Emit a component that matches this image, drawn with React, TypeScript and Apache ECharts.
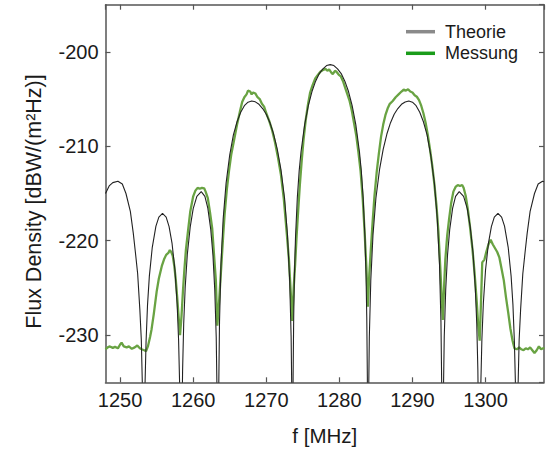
import React, { useEffect, useRef } from 'react';
import * as echarts from 'echarts';

// Frequency axis range [MHz] and flux density range [dBW/(m²Hz)]
const freqRange = [1248, 1308];
const fluxRange = [-235, -195];

// Theoretical spectrum: [frequency MHz, flux density dB]
const theoryData: [number, number][] = [
  [1248.0, -215.0], [1248.5, -214.2], [1249.0, -213.85], [1249.7, -213.7], [1250.3, -214.0], [1250.8, -215.0],
  [1251.4, -216.9], [1251.8, -219.2], [1252.1, -221.3], [1252.4, -223.5], [1252.7, -227.3], [1252.9, -230.5],
  [1253.05, -235.5], [1253.2, -250],
  [1253.3, -241.5], [1253.4, -235.5], [1253.55, -230.7], [1253.75, -226.8], [1254.0, -223.75], [1254.4, -220.7],
  [1254.9, -218.45], [1255.3, -217.5], [1255.8, -217.1], [1256.3, -217.5], [1256.7, -218.5], [1257.1, -220.25],
  [1257.5, -223.1], [1257.8, -226.65], [1258.0, -230.5], [1258.15, -235.4], [1258.25, -241.1], [1258.35, -250],
  [1258.45, -239.7], [1258.55, -233.7], [1258.7, -228.8], [1258.9, -225.0], [1259.2, -221.4], [1259.6, -218.5],
  [1260.0, -216.6], [1260.5, -215.3], [1261.1, -214.8], [1261.6, -215.3], [1262.0, -216.55], [1262.4, -218.8],
  [1262.7, -221.5], [1262.95, -225.2], [1263.15, -230.2], [1263.3, -238.2], [1263.4, -250],
  [1263.48, -236.5], [1263.6, -228.6], [1263.8, -222.5], [1264.1, -217.7], [1264.5, -213.9], [1265.0, -210.9],
  [1265.5, -208.8], [1266.0, -207.4], [1266.5, -206.4], [1267.0, -205.7], [1267.5, -205.33], [1268.0, -205.2],
  [1268.5, -205.29], [1269.0, -205.55], [1269.5, -206.0], [1270.0, -206.6], [1270.5, -207.5], [1271.0, -208.7],
  [1271.5, -210.3], [1272.0, -212.45], [1272.5, -215.5], [1272.9, -219.4], [1273.2, -224.2], [1273.4, -230.2],
  [1273.52, -238], [1273.6, -250],
  [1273.67, -234.5], [1273.75, -228.1], [1273.85, -223.7], [1274.0, -219.6], [1274.25, -215.4], [1274.5, -212.6],
  [1274.75, -210.6], [1275.25, -207.7], [1275.75, -205.7], [1276.25, -204.2], [1276.75, -203.1], [1277.25, -202.3],
  [1277.75, -201.8], [1278.25, -201.45], [1278.75, -201.35], [1279.25, -201.45], [1279.75, -201.8], [1280.25, -202.3],
  [1280.75, -203.1], [1281.25, -204.2], [1281.75, -205.7], [1282.25, -207.7], [1282.75, -210.6], [1283.0, -212.6],
  [1283.25, -215.4], [1283.5, -219.6], [1283.65, -223.7], [1283.75, -228.1], [1283.83, -234.5], [1283.9, -250],
  [1283.98, -238], [1284.1, -230.2], [1284.3, -224.2], [1284.6, -219.4], [1285.0, -215.5], [1285.5, -212.45],
  [1286.0, -210.3], [1286.5, -208.7], [1287.0, -207.5], [1287.5, -206.6], [1288.0, -206.0], [1288.5, -205.55],
  [1289.0, -205.3], [1289.5, -205.2], [1290.0, -205.33], [1290.5, -205.7], [1291.0, -206.4], [1291.5, -207.4],
  [1292.0, -208.8], [1292.5, -210.9], [1293.0, -213.9], [1293.4, -217.7], [1293.7, -222.5], [1293.9, -228.6],
  [1294.02, -236.5], [1294.1, -250],
  [1294.2, -238.2], [1294.35, -230.2], [1294.55, -225.2], [1294.8, -221.5], [1295.1, -218.8], [1295.5, -216.55],
  [1295.9, -215.3], [1296.4, -214.8], [1297.0, -215.3], [1297.5, -216.6], [1297.9, -218.5], [1298.3, -221.4],
  [1298.6, -225.0], [1298.8, -228.8], [1298.95, -233.7], [1299.05, -239.7], [1299.15, -250],
  [1299.25, -241.1], [1299.35, -235.4], [1299.5, -230.5], [1299.7, -226.65], [1300.0, -223.1], [1300.4, -220.25],
  [1300.8, -218.5], [1301.2, -217.5], [1301.7, -217.1], [1302.2, -217.5], [1302.6, -218.45], [1303.1, -220.7],
  [1303.5, -223.75], [1303.75, -226.8], [1303.95, -230.7], [1304.1, -235.5], [1304.2, -241.5], [1304.3, -250],
  [1304.45, -235.5], [1304.6, -230.5], [1304.8, -227.3], [1305.1, -223.5], [1305.4, -221.3], [1305.7, -219.2],
  [1306.1, -216.9], [1306.7, -215.0], [1307.2, -214.0], [1307.8, -213.7], [1308.0, -213.75],
];

// Measured spectrum: [frequency MHz, flux density dB]
const messungData: [number, number][] = [
  [1248.0, -231.5], [1248.3, -231.3], [1248.6, -231.2], [1249.0, -231.35], [1249.3, -231.25], [1249.7, -231.4],
  [1250.0, -231.0], [1250.2, -230.8], [1250.5, -231.2], [1250.9, -231.3], [1251.2, -231.2], [1251.6, -231.45],
  [1252.0, -231.3], [1252.35, -231.1], [1252.7, -231.4], [1252.95, -231.5], [1253.3, -231.6], [1253.55, -231.7],
  [1253.8, -231.2], [1254.1, -230.2], [1254.3, -229.4], [1254.6, -227.8], [1255.0, -225.4], [1255.3, -224.0],
  [1255.7, -222.7], [1256.0, -222.0], [1256.3, -221.5], [1256.6, -221.3], [1256.8, -221.0], [1257.0, -221.2],
  [1257.2, -221.6], [1257.4, -222.6], [1257.6, -224.0], [1257.8, -225.9], [1258.0, -228.0], [1258.2, -230.0],
  [1258.4, -228.0], [1258.6, -225.3], [1258.8, -223.0], [1259.0, -221.0], [1259.3, -218.9], [1259.6, -216.9],
  [1260.0, -215.3], [1260.3, -214.7], [1260.6, -214.4], [1260.9, -214.5], [1261.2, -214.4], [1261.5, -214.45],
  [1261.7, -214.8], [1262.0, -215.5], [1262.3, -217.0], [1262.6, -218.7], [1262.85, -221.5], [1263.1, -224.2],
  [1263.3, -229.0],
  [1263.5, -227.0], [1263.7, -224.5], [1263.9, -222.0], [1264.1, -219.5], [1264.3, -217.2], [1264.6, -214.6],
  [1264.9, -212.6], [1265.2, -210.9], [1265.6, -209.3], [1266.0, -207.7], [1266.4, -206.3], [1266.7, -205.3],
  [1267.0, -204.8], [1267.3, -204.5], [1267.5, -204.1], [1267.8, -204.2], [1268.0, -204.5], [1268.2, -204.3],
  [1268.5, -204.4], [1268.8, -204.8], [1269.1, -205.0], [1269.4, -205.5], [1269.7, -205.8], [1270.0, -206.5],
  [1270.4, -207.3], [1270.8, -208.3], [1271.2, -209.6], [1271.6, -211.2], [1272.0, -213.0], [1272.4, -215.6],
  [1272.8, -219.2], [1273.1, -222.0], [1273.35, -225.5], [1273.55, -228.5],
  [1273.75, -225.0], [1273.95, -222.5], [1274.15, -219.5], [1274.35, -217.0], [1274.6, -214.0], [1274.85, -211.5],
  [1275.1, -209.3], [1275.4, -207.2], [1275.7, -205.6], [1276.0, -204.3], [1276.3, -203.6], [1276.7, -202.8],
  [1277.0, -202.5], [1277.4, -202.1], [1277.8, -201.9], [1278.1, -201.8], [1278.4, -202.0], [1278.6, -201.85],
  [1278.9, -202.2], [1279.1, -202.35], [1279.4, -202.0], [1279.6, -202.1], [1279.9, -202.4], [1280.2, -202.6],
  [1280.5, -203.1], [1280.8, -203.8], [1281.1, -204.5], [1281.4, -205.2], [1281.7, -206.2], [1282.0, -207.5],
  [1282.3, -208.8], [1282.6, -210.6], [1282.9, -212.6], [1283.2, -215.6], [1283.45, -219.0], [1283.7, -222.8],
  [1283.9, -227.0],
  [1284.1, -223.5], [1284.3, -221.0], [1284.55, -218.0], [1284.8, -215.3], [1285.1, -212.8], [1285.4, -210.8],
  [1285.7, -209.0], [1286.0, -207.7], [1286.3, -206.7], [1286.6, -206.0], [1286.9, -205.5], [1287.3, -205.2],
  [1287.7, -204.8], [1288.1, -204.5], [1288.5, -204.2], [1288.8, -204.0], [1289.1, -204.1], [1289.4, -203.95],
  [1289.7, -204.2], [1290.0, -204.3], [1290.3, -204.6], [1290.6, -204.75], [1290.9, -205.1], [1291.2, -205.7],
  [1291.5, -206.5], [1291.8, -207.5], [1292.1, -208.8], [1292.4, -210.3], [1292.7, -212.0], [1293.0, -214.0],
  [1293.3, -216.4], [1293.55, -219.0], [1293.8, -222.7], [1294.0, -226.0], [1294.15, -228.4],
  [1294.35, -224.5], [1294.5, -222.0], [1294.75, -219.5], [1295.0, -217.8], [1295.3, -216.0], [1295.6, -214.8],
  [1295.9, -214.3], [1296.2, -214.1], [1296.5, -214.2], [1296.8, -214.1], [1297.0, -214.4], [1297.3, -215.3],
  [1297.6, -216.8], [1297.9, -218.7], [1298.2, -220.8], [1298.5, -223.4], [1298.8, -226.5], [1299.0, -229.0],
  [1299.2, -230.6],
  [1299.4, -226.0], [1299.55, -222.3], [1299.85, -222.0], [1300.1, -221.2], [1300.4, -220.4], [1300.7, -219.9],
  [1301.0, -220.4], [1301.3, -220.8], [1301.6, -221.2], [1301.9, -221.8], [1302.2, -223.0], [1302.5, -224.2],
  [1302.8, -226.0], [1303.1, -227.6], [1303.4, -229.3], [1303.7, -230.6], [1303.95, -231.4], [1304.3, -231.5],
  [1304.6, -231.3], [1304.9, -231.5], [1305.2, -231.6], [1305.5, -231.4], [1305.8, -231.5], [1306.1, -231.3],
  [1306.4, -231.6], [1306.7, -231.9], [1307.0, -231.6], [1307.3, -231.2], [1307.6, -231.5], [1307.9, -231.4],
  [1308.0, -231.3],
];

const legendNames = ['Theorie', 'Messung'];
const xTitle = 'f [MHz]';
const yTitle = 'Flux Density [dBW/(m²Hz)]';

export default function App() {
  const ref = useRef<HTMLDivElement>(null);
  useEffect(() => {
    if (!ref.current) return;
    const chart = echarts.init(ref.current, null, { renderer: 'svg' });
    const font = "'Liberation Sans', Arial, Helvetica, sans-serif";
    const axisColor = '#555555';
    const textColor = '#1a1a1a';
    const axisLine = { show: true, onZero: false, lineStyle: { color: axisColor, width: 1.5 } };
    const axisTick = { show: true, inside: true, length: 5, lineStyle: { color: axisColor, width: 1.2 } };
    const label = {
      fontSize: 20, color: textColor, fontFamily: font, showMinLabel: false, showMaxLabel: false,
      formatter: (v: number) => String(v),
    };
    chart.setOption({
      animation: false,
      backgroundColor: '#ffffff',
      grid: { left: 105.5, top: 4.7, width: 438.5, height: 377.6, containLabel: false, outerBoundsMode: 'none' },
      legend: {
        orient: 'vertical',
        left: 406,
        top: 22.7,
        padding: 0,
        itemGap: 3.6,
        itemWidth: 29,
        itemHeight: 3.5,
        textStyle: { fontSize: 18, color: textColor, fontFamily: font, padding: [0, 0, 0, 5], lineHeight: 18 },
        data: [
          { name: legendNames[0], icon: 'rect', itemStyle: { color: '#8a8a8a', borderWidth: 0 } },
          { name: legendNames[1], icon: 'rect', itemStyle: { color: '#1a9c1a', borderWidth: 0 } },
        ],
      },
      xAxis: [
        {
          type: 'value', min: freqRange[0], max: freqRange[1], position: 'bottom',
          axisLine, axisTick, splitLine: { show: false },
          axisLabel: { ...label, margin: 8 },
          name: xTitle, nameLocation: 'middle', nameGap: 43,
          nameTextStyle: { fontSize: 20.5, color: textColor, fontFamily: font },
        },
        {
          type: 'value', min: freqRange[0], max: freqRange[1], position: 'top',
          axisLine, axisTick, splitLine: { show: false }, axisLabel: { show: false },
        },
      ],
      yAxis: [
        {
          type: 'value', min: fluxRange[0], max: fluxRange[1], position: 'left',
          axisLine, axisTick, splitLine: { show: false },
          axisLabel: { ...label, margin: 7 },
          name: yTitle, nameLocation: 'middle', nameGap: 61,
          nameTextStyle: { fontSize: 21.5, color: textColor, fontFamily: font, padding: [0, 16, 0, 0] },
        },
        {
          type: 'value', min: fluxRange[0], max: fluxRange[1], position: 'right',
          axisLine, axisTick, splitLine: { show: false }, axisLabel: { show: false },
        },
      ],
      series: [
        {
          name: legendNames[1], type: 'line', data: messungData, symbol: 'none', showSymbol: false,
          lineStyle: { color: '#69a343', width: 2.3 }, itemStyle: { color: '#69a343' }, z: 2, clip: true,
        },
        {
          name: legendNames[0], type: 'line', data: theoryData, symbol: 'none', showSymbol: false,
          lineStyle: { color: '#222222', width: 1.1 }, itemStyle: { color: '#222222' }, z: 3, clip: true,
        },
      ],
    });
    return () => chart.dispose();
  }, []);
  return <div ref={ref} style={{ position: 'fixed', left: 0, top: 0, width: 546, height: 450 }} />;
}
